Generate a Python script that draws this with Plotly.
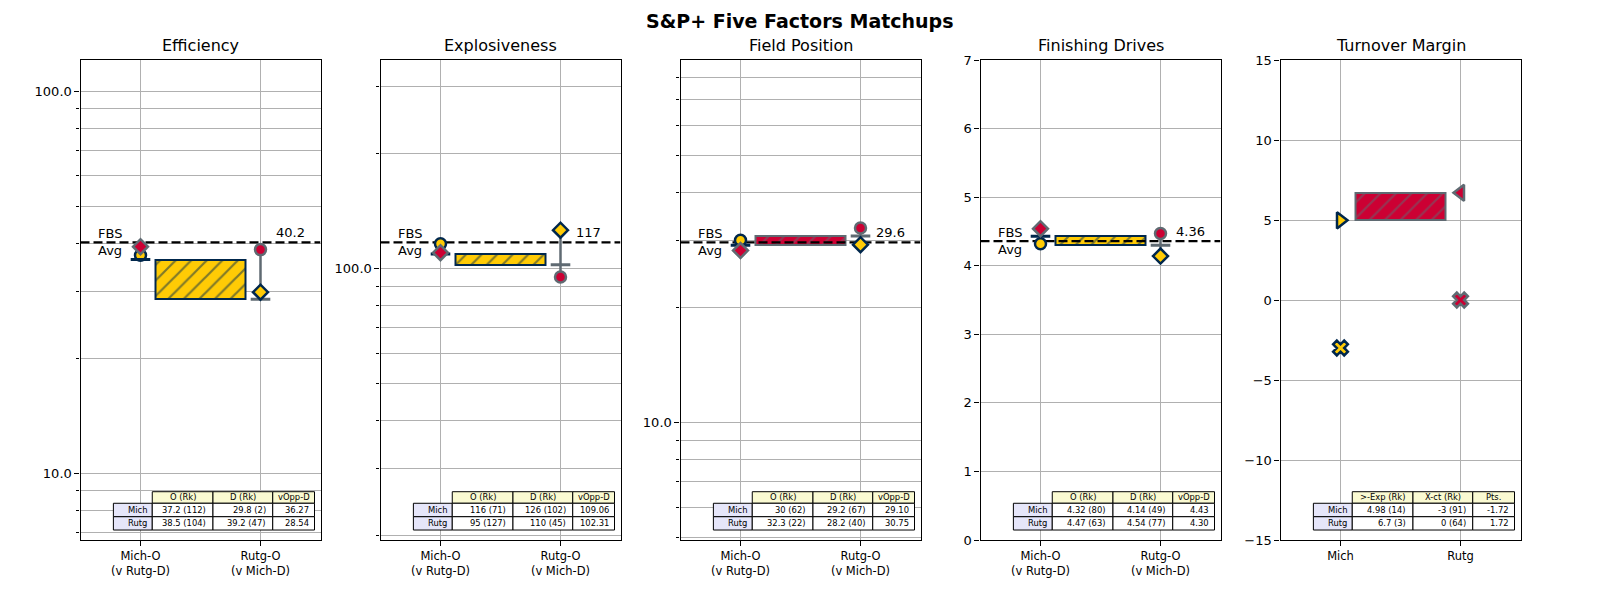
import numpy as np
import plotly.graph_objects as go

# ---------------- data ----------------
factors = ["Efficiency", "Explosiveness", "Field Position", "Finishing Drives", "Turnover Margin"]
teams = ["Mich", "Rutg"]
fbs_avg = [40.2, 117, 29.6, 4.36]
mich_off = [37.2, 116, 30, 4.32]
mich_off_rk = [112, 71, 62, 80]
rutg_off = [38.5, 95, 32.3, 4.47]
rutg_off_rk = [104, 127, 22, 63]
mich_def = [29.8, 126, 29.2, 4.14]
mich_def_rk = [2, 102, 67, 49]
rutg_def = [39.2, 110, 28.2, 4.54]
rutg_def_rk = [47, 45, 40, 77]
mich_vopp = [36.27, 109.06, 29.10, 4.43]
rutg_vopp = [28.54, 102.31, 30.75, 4.30]
log_scale = [True, True, True, False]
fd_range = [0, 7]
fd_ticks = [0, 1, 2, 3, 4, 5, 6, 7]

# turnover margin
to_exp = [4.98, 6.7]
to_exp_rk = [14, 3]
to_xct = [-3, 0]
to_xct_rk = [91, 64]
to_pts = [-1.72, 1.72]
to_range = [-15, 15]
to_ticks = [-15, -10, -5, 0, 5, 10, 15]
to_ticktext = ["\u221215", "\u221210", "\u22125", "0", "5", "10", "15"]

matchup_labels = ["Mich-O<br>(v Rutg-D)", "Rutg-O<br>(v Mich-D)"]
to_labels = ["Mich", "Rutg"]
table_cols = ["O (Rk)", "D (Rk)", "vOpp-D"]
to_table_cols = [">-Exp (Rk)", "X-ct (Rk)", "Pts."]

# ---------------- style ----------------
fill = ["#FFCB05", "#CC0033"]
edge = ["#00274C", "#5F6A72"]
FONT = "DejaVu Sans"
W, H = 1600, 600
GRID = "#b0b0b0"

fig = go.Figure()


def ax_names(i):
    return ("x", "y") if i == 0 else (f"x{i+1}", f"y{i+1}")


def fmt(v):
    return f"{v:g}"


def add_table(i, col_labels, rows):
    xa, ya = ax_names(i)
    xr, yr = f"{xa} domain", f"{ya} domain"
    xb = [0.137, 0.299, 0.552, 0.801, 0.975]
    yb = [0.1006, 0.0765, 0.0485, 0.0208]
    fs = 8.4
    for c in range(3):
        fig.add_shape(type="rect", xref=xr, yref=yr, x0=xb[c + 1], x1=xb[c + 2], y0=yb[1], y1=yb[0],
                      fillcolor="#FAFAD2", line=dict(color="black", width=1), layer="above")
        fig.add_annotation(xref=xr, yref=yr, x=(xb[c + 1] + xb[c + 2]) / 2, y=(yb[0] + yb[1]) / 2,
                           text=col_labels[c], showarrow=False, xanchor="center", yanchor="middle",
                           font=dict(family=FONT, size=fs, color="black"))
    for r in range(2):
        fig.add_shape(type="rect", xref=xr, yref=yr, x0=xb[0], x1=xb[1], y0=yb[r + 2], y1=yb[r + 1],
                      fillcolor="#E6E6FA", line=dict(color="black", width=1), layer="above")
        fig.add_annotation(xref=xr, yref=yr, x=xb[1] - 0.014, y=(yb[r + 1] + yb[r + 2]) / 2,
                           text=teams[r], showarrow=False, xanchor="right", yanchor="middle",
                           font=dict(family=FONT, size=fs, color="black"))
        for c in range(3):
            fig.add_shape(type="rect", xref=xr, yref=yr, x0=xb[c + 1], x1=xb[c + 2], y0=yb[r + 2], y1=yb[r + 1],
                          fillcolor="white", line=dict(color="black", width=1), layer="above")
            fig.add_annotation(xref=xr, yref=yr, x=xb[c + 2] - 0.1 * (xb[c + 2] - xb[c + 1]) + 0.004,
                               y=(yb[r + 1] + yb[r + 2]) / 2,
                               text=rows[r][c], showarrow=False, xanchor="right", yanchor="middle",
                               font=dict(family=FONT, size=fs, color="black"))


def add_box(xa, ya, lo_v, hi_v, win):
    lo, hi = min(lo_v, hi_v), max(lo_v, hi_v)
    fig.add_trace(go.Bar(x=[0.5], y=[hi - lo], base=[lo], width=[0.75], xaxis=xa, yaxis=ya,
                         marker=dict(color=fill[win], line=dict(color=edge[win], width=2),
                                     pattern=dict(shape="/", fgcolor=edge[win], bgcolor=fill[win],
                                                  size=11, solidity=0.2)),
                         hoverinfo="skip", showlegend=False))


for i in range(4):
    xa, ya = ax_names(i)
    offs = [mich_off[i], rutg_off[i]]
    defs = [rutg_def[i], mich_def[i]]
    vopp = [mich_vopp[i], rutg_vopp[i]]
    win = 0 if vopp[0] > vopp[1] else 1
    add_box(xa, ya, vopp[0], vopp[1], win)
    # FBS average line
    fig.add_trace(go.Scatter(x=[-0.5, 1.5], y=[fbs_avg[i], fbs_avg[i]], mode="lines", xaxis=xa, yaxis=ya,
                             line=dict(color="black", width=2.2, dash="9px,4px"),
                             hoverinfo="skip", showlegend=False))
    for k in range(2):
        vals = [offs[k], defs[k], vopp[k]]
        fig.add_trace(go.Scatter(x=[k, k], y=[min(vals), max(vals)], mode="lines", xaxis=xa, yaxis=ya,
                                 line=dict(color=edge[k], width=2.5), hoverinfo="skip", showlegend=False))
        fig.add_trace(go.Scatter(x=[k], y=[offs[k]], mode="markers", xaxis=xa, yaxis=ya,
                                 marker=dict(symbol="circle", size=11, color=fill[k],
                                             line=dict(color=edge[k], width=2.5)),
                                 hoverinfo="skip", showlegend=False))
        fig.add_trace(go.Scatter(x=[k], y=[vopp[k]], mode="markers", xaxis=xa, yaxis=ya,
                                 marker=dict(symbol="line-ew", size=14, color=edge[k],
                                             line=dict(color=edge[k], width=3)),
                                 hoverinfo="skip", showlegend=False))
        fig.add_trace(go.Scatter(x=[k], y=[defs[k]], mode="markers", xaxis=xa, yaxis=ya,
                                 marker=dict(symbol="diamond", size=11.5, color=fill[1 - k],
                                             line=dict(color=edge[1 - k], width=2.5)),
                                 hoverinfo="skip", showlegend=False))
    # FBS avg labels
    yv = np.log10(fbs_avg[i]) if log_scale[i] else fbs_avg[i]
    fig.add_annotation(xref=xa, yref=ya, x=-0.37, y=yv, text="FBS<br>Avg", showarrow=False,
                       xanchor="left", yanchor="middle", align="left",
                       font=dict(family=FONT, size=13, color="black"))
    fig.add_annotation(xref=xa, yref=ya, x=1.11, y=yv, text=fmt(fbs_avg[i]), showarrow=False,
                       xanchor="left", yanchor="bottom",
                       font=dict(family=FONT, size=13, color="black"))
    rows = [
        [f"{fmt(mich_off[i])} ({mich_off_rk[i]})", f"{fmt(mich_def[i])} ({mich_def_rk[i]})", f"{mich_vopp[i]:.2f}"],
        [f"{fmt(rutg_off[i])} ({rutg_off_rk[i]})", f"{fmt(rutg_def[i])} ({rutg_def_rk[i]})", f"{rutg_vopp[i]:.2f}"],
    ]
    add_table(i, table_cols, rows)

# turnover margin panel
xa, ya = ax_names(4)
win = 0 if to_exp[0] > to_exp[1] else 1
add_box(xa, ya, to_exp[0], to_exp[1], win)
tri = ["triangle-right", "triangle-left"]
for k in range(2):
    fig.add_trace(go.Scatter(x=[k], y=[to_exp[k]], mode="markers", xaxis=xa, yaxis=ya,
                             marker=dict(symbol=tri[k], size=14, color=fill[k], line=dict(color=edge[k], width=2.5)),
                             hoverinfo="skip", showlegend=False))
    fig.add_trace(go.Scatter(x=[k], y=[to_xct[k]], mode="markers", xaxis=xa, yaxis=ya,
                             marker=dict(symbol="x", size=13, color=fill[k], line=dict(color=edge[k], width=2.5)),
                             hoverinfo="skip", showlegend=False))
rows = [
    [f"{fmt(to_exp[0])} ({to_exp_rk[0]})", f"{fmt(to_xct[0])} ({to_xct_rk[0]})", f"{to_pts[0]:.2f}"],
    [f"{fmt(to_exp[1])} ({to_exp_rk[1]})", f"{fmt(to_xct[1])} ({to_xct_rk[1]})", f"{to_pts[1]:.2f}"],
]
add_table(4, to_table_cols, rows)

# ---------------- axes ----------------
layout = {}
for i in range(5):
    xa, ya = ax_names(i)
    left = 80.5 + 300 * i
    xkey = "xaxis" if i == 0 else f"xaxis{i+1}"
    ykey = "yaxis" if i == 0 else f"yaxis{i+1}"
    common = dict(showline=True, mirror=True, linecolor="black", linewidth=1.2, ticks="outside",
                  ticklen=5, tickwidth=1, tickcolor="black", showgrid=True, gridcolor=GRID, gridwidth=1,
                  zeroline=False, fixedrange=True, automargin=False)
    layout[xkey] = dict(common, domain=[left / W, (left + 240) / W], range=[-0.5, 1.5], anchor=ya,
                        tickmode="array", tickvals=[0, 1],
                        ticktext=(to_labels if i == 4 else matchup_labels),
                        tickfont=dict(family=FONT, size=11.5, color="black"))
    ydom = [(600 - 540) / H, (600 - 60) / H]
    if i < 3:
        lo, hi = fbs_avg[i] / 6, fbs_avg[i] * 3
        majors = [10 ** e for e in range(-2, 5) if lo <= 10 ** e <= hi]
        minors = [m * 10 ** e for e in range(-2, 5) for m in range(2, 10) if lo <= m * 10 ** e <= hi]
        layout[ykey] = dict(common, domain=ydom, anchor=xa, type="log",
                            range=[np.log10(lo), np.log10(hi)], tickmode="array", tickvals=majors,
                            ticktext=[f"{v:.1f}" for v in majors],
                            minor=dict(tickmode="array", tickvals=minors, ticks="outside", ticklen=3,
                                       tickcolor="black", showgrid=True, gridcolor=GRID, gridwidth=1),
                            tickfont=dict(family=FONT, size=13, color="black"))
    elif i == 3:
        layout[ykey] = dict(common, domain=ydom, anchor=xa, range=fd_range, tickmode="array",
                            tickvals=fd_ticks, ticktext=[str(t) for t in fd_ticks],
                            tickfont=dict(family=FONT, size=13, color="black"))
    else:
        layout[ykey] = dict(common, domain=ydom, anchor=xa, range=to_range, tickmode="array",
                            tickvals=to_ticks, ticktext=to_ticktext,
                            tickfont=dict(family=FONT, size=13, color="black"))
    fig.add_annotation(xref=f"{xa} domain", yref=f"{ya} domain", x=0.5, y=1, yshift=14,
                       text=factors[i], showarrow=False, xanchor="center", yanchor="middle",
                       font=dict(family=FONT, size=16, color="black"))

fig.add_annotation(xref="paper", yref="paper", x=0.5, y=1 - 21 / H, text="<b>S&P+ Five Factors Matchups</b>",
                   showarrow=False, xanchor="center", yanchor="middle",
                   font=dict(family=FONT, size=19, color="black"))

fig.update_layout(width=W, height=H, margin=dict(l=0, r=0, t=0, b=0, autoexpand=False), plot_bgcolor="white",
                  paper_bgcolor="white", showlegend=False, bargap=0, **layout)

fig.write_html("out.html", config={"displayModeBar": False},
               post_script="document.body.style.margin='0px';")
